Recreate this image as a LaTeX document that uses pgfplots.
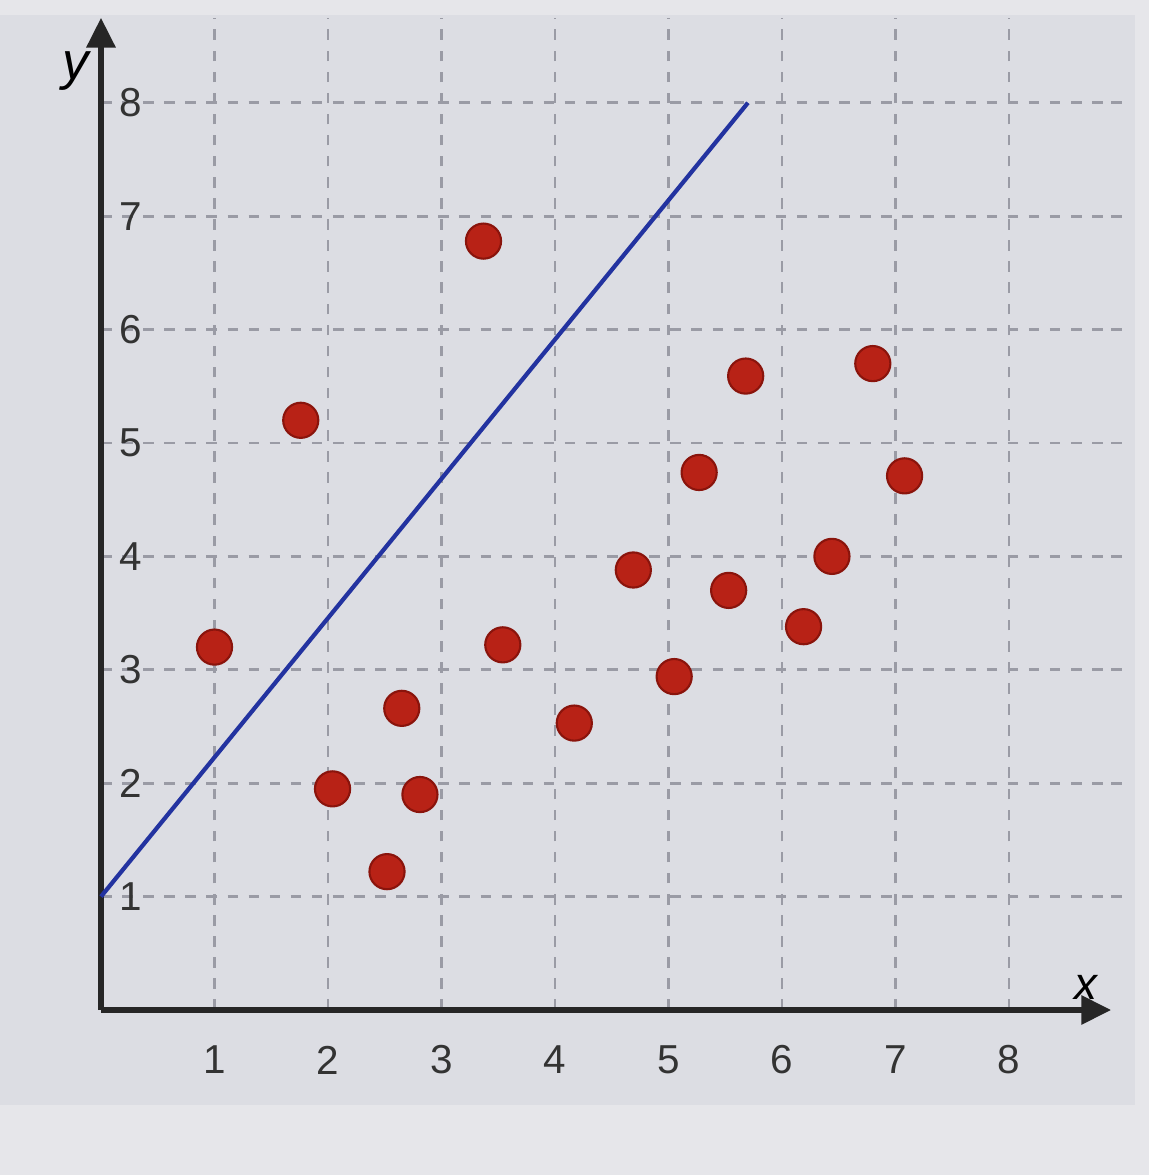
\documentclass[border=0pt]{standalone}
\usepackage{pgfplots}
\pgfplotsset{compat=1.18}
\usepackage{fontspec}
\setmainfont{Liberation Sans}
\usetikzlibrary{arrows.meta}

\definecolor{outerbg}{HTML}{E6E6EA}
\definecolor{panelbg}{HTML}{DCDDE3}
\definecolor{gridgray}{HTML}{9A9BA5}
\definecolor{dotred}{HTML}{B82216}
\definecolor{dotedge}{HTML}{8A140C}
\definecolor{lineblue}{HTML}{2333A0}

\pgfplotstableread{
x     y
1.00  3.20
1.76  5.20
2.04  1.95
2.52  1.22
2.65  2.66
2.81  1.90
3.37  6.78
3.54  3.22
4.17  2.53
4.69  3.88
5.05  2.94
5.27  4.74
5.53  3.70
5.68  5.59
6.19  3.38
6.44  4.00
6.80  5.70
7.08  4.71
}\points

\begin{document}
\begin{tikzpicture}
  % page and screen panel
  \fill[outerbg] (-1.01cm,-1.65cm) rectangle (10.48cm,10.10cm);
  \fill[panelbg] (-1.01cm,-0.95cm) rectangle (10.34cm,9.95cm);
  \useasboundingbox (-1.01cm,-1.65cm) rectangle (10.48cm,10.10cm);
  \begin{axis}[
    anchor=origin, at={(0,0)},
    x=1.135cm, y=1.134cm,
    xmin=0, xmax=8.9, ymin=0, ymax=8.75,
    axis lines=left,
    axis line style={line width=1.7pt, black!85, -{Triangle[length=8.5pt,width=8pt]}},
    xtick={1,...,8}, ytick={1,...,8},
    major tick length=0pt,
    grid=major,
    major grid style={gridgray, line width=0.8pt, dash pattern=on 3pt off 3pt},
    /pgf/number format/assume math mode=true,
    tick label style={font=\fontsize{11.5}{13}\selectfont, text=black!80},
    xticklabel style={anchor=center, yshift=-0.5cm},
    yticklabel style={anchor=center, xshift=0.3cm},
    clip=false,
  ]
    % horizontal grid lines run a little past the arrow tip
    \pgfplotsinvokeforeach{1,...,8}{
      \addplot[gridgray, line width=0.8pt, dash pattern=on 3pt off 3pt, forget plot]
        coordinates {(8.9,#1) (9.05,#1)};
    }
    % fitted line
    \addplot[lineblue, line width=1.2pt] coordinates {(0,1) (5.7,8)};
    % observations
    \addplot[only marks, mark=*, mark size=5pt,
             mark options={fill=dotred, draw=dotedge, line width=0.6pt}]
      table[x=x, y=y] {\points};
    \node[font=\fontsize{15}{17}\selectfont\itshape] at (axis cs:-0.22,8.28) {y};
    \node[font=\fontsize{13}{15}\selectfont\itshape] at (axis cs:8.68,0.2) {x};
  \end{axis}
\end{tikzpicture}
\end{document}
